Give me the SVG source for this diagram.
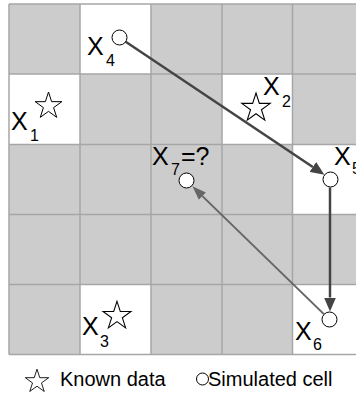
<svg xmlns="http://www.w3.org/2000/svg" width="356" height="393" viewBox="0 0 356 393">
<style>
.cell{fill:#cccccc}
.wcell{fill:#ffffff}
.grid{stroke:#a6a6a6;stroke-width:1.5;fill:none}
.star{fill:#ffffff;stroke:#000000;stroke-width:1}
.node{fill:#ffffff;stroke:#000000;stroke-width:1}
.lbl{font-family:"Liberation Sans",Arial,sans-serif;font-size:25px;fill:#000000}
.sub{font-family:"Liberation Sans",Arial,sans-serif;font-size:16px;fill:#000000}
.leg{font-family:"Liberation Sans",Arial,sans-serif;font-size:20px;fill:#000000}
.c1{stroke:#444444;stroke-width:2.5;fill:none}
.c2{stroke:#666666;stroke-width:2;fill:none}
</style>
<defs>
<path id="starshape" d="M0,-14 L3.14,-4.33 L13.31,-4.33 L5.09,1.65 L8.23,11.33 L0,5.35 L-8.23,11.33 L-5.09,1.65 L-13.31,-4.33 L-3.14,-4.33 Z"/>
<marker id="ah1" markerUnits="userSpaceOnUse" markerWidth="16" markerHeight="12" refX="0" refY="6" orient="auto" viewBox="0 0 16 12">
<path d="M0,0 L14,6 L0,12 Z" fill="#444444"/>
</marker>
<marker id="ah2" markerUnits="userSpaceOnUse" markerWidth="16" markerHeight="12" refX="0" refY="6" orient="auto" viewBox="0 0 16 12">
<path d="M0,1 L14,6 L0,11 Z" fill="#666666"/>
</marker>
</defs>
<g id="grid">
<rect class="cell" x="9" y="4" width="354" height="350.5"/>
<rect class="wcell" x="80" y="4" width="71" height="70"/>
<rect class="wcell" x="9" y="74" width="71" height="70.5"/>
<rect class="wcell" x="222" y="74" width="70.5" height="70.5"/>
<rect class="wcell" x="292.5" y="144.5" width="70.5" height="70"/>
<rect class="wcell" x="80" y="284.5" width="71" height="70"/>
<rect class="wcell" x="292.5" y="284.5" width="70.5" height="70"/>
<path class="grid" d="M9,4 V354.5 M80,4 V354.5 M151,4 V354.5 M222,4 V354.5 M292.5,4 V354.5 M9,4 H363 M9,74 H363 M9,144.5 H363 M9,214.5 H363 M9,284.5 H363 M9,354.5 H363"/>
</g>
<g id="connectors">
<line class="c1" x1="125.7" y1="41.7" x2="312.8" y2="167" marker-end="url(#ah1)"/>
<line class="c1" x1="330" y1="187.5" x2="330" y2="297.5" marker-end="url(#ah1)"/>
<line class="c2" x1="323.9" y1="314.1" x2="202.4" y2="196.1" marker-end="url(#ah2)"/>
</g>
<g id="x1">
<use href="#starshape" class="star" transform="translate(48.5,106)"/>
<text class="lbl" x="11" y="130">X</text><text class="sub" x="30" y="141">1</text>
</g>
<g id="x2">
<use href="#starshape" class="star" transform="translate(256,108) scale(1.07)"/>
<text class="lbl" x="263" y="95">X</text><text class="sub" x="282" y="107">2</text>
</g>
<g id="x3">
<use href="#starshape" class="star" transform="translate(117,316) scale(1.05)"/>
<text class="lbl" x="82" y="335">X</text><text class="sub" x="100" y="347">3</text>
</g>
<g id="x4">
<circle class="node" cx="119.5" cy="37.5" r="7.5"/>
<text class="lbl" x="87" y="55">X</text><text class="sub" x="106" y="66">4</text>
</g>
<g id="x5">
<circle class="node" cx="330.5" cy="179.5" r="7.5"/>
<text class="lbl" x="334" y="165">X</text><text class="sub" x="352" y="174">5</text>
</g>
<g id="x6">
<circle class="node" cx="329.5" cy="319.5" r="7.5"/>
<text class="lbl" x="295" y="340">X</text><text class="sub" x="313" y="350">6</text>
</g>
<g id="x7">
<circle class="node" cx="186.5" cy="180.5" r="7.5"/>
<text class="lbl" x="152" y="165">X</text><text class="sub" x="171" y="175">7</text><text class="lbl" x="181" y="165">=?</text>
</g>
<g id="legend">
<use href="#starshape" class="star" transform="translate(37,381.5) scale(0.88)"/>
<text class="leg" x="60" y="386">Known data</text>
<circle class="node" cx="202.5" cy="379" r="6"/>
<text class="leg" x="208" y="386">Simulated cell</text>
</g>
</svg>
